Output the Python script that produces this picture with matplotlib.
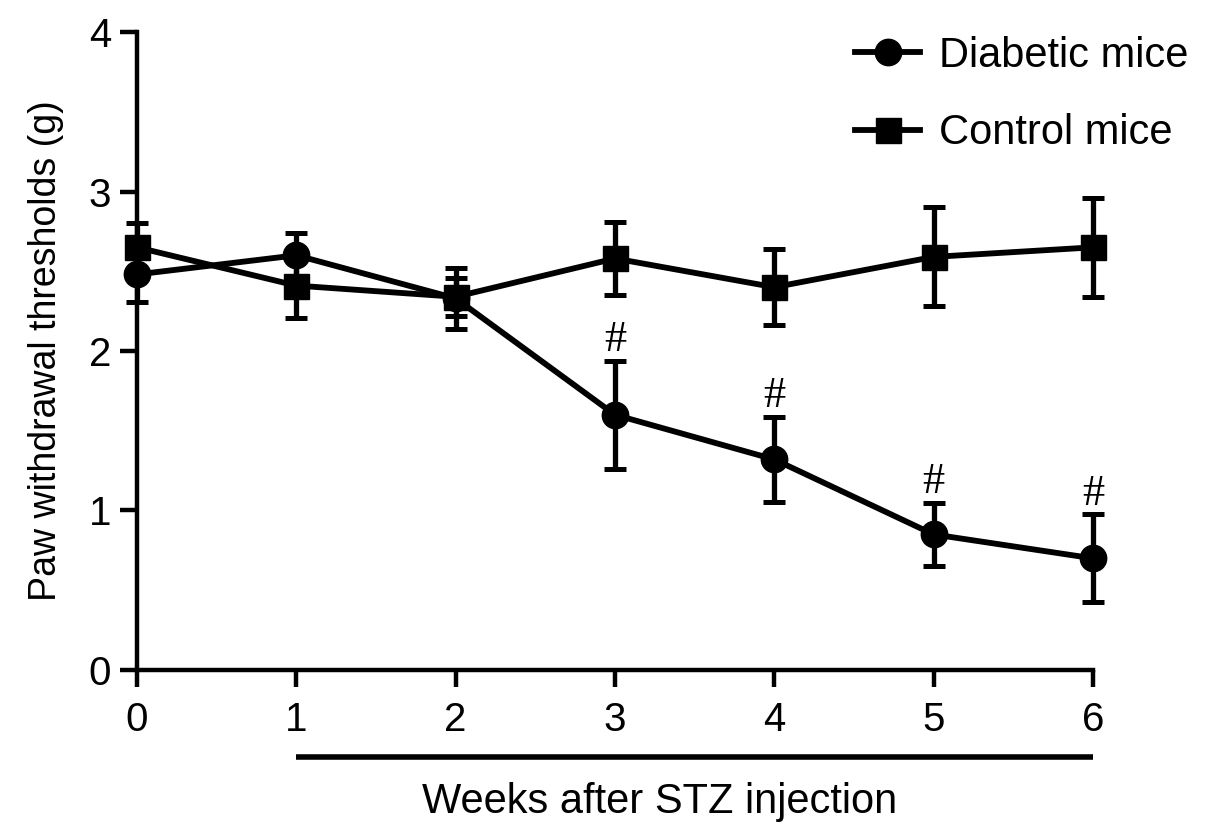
# Paw withdrawal thresholds, diabetic vs control mice
import numpy as np
import matplotlib.pyplot as plt
import matplotlib.transforms as mtransforms
from matplotlib.lines import Line2D

plt.rcParams['font.family'] = ['Liberation Sans', 'DejaVu Sans']

weeks = [0, 1, 2, 3, 4, 5, 6]
diabetic_mean = [2.48, 2.60, 2.33, 1.60, 1.32, 0.85, 0.70]
diabetic_err = [0.17, 0.14, 0.19, 0.34, 0.265, 0.20, 0.275]
control_mean = [2.65, 2.41, 2.34, 2.58, 2.40, 2.59, 2.65]
control_err = [0.15, 0.20, 0.12, 0.23, 0.24, 0.31, 0.31]
sig_weeks = [3, 4, 5, 6]

fig = plt.figure(figsize=(12.05, 8.38), dpi=100)
ax = fig.add_axes([0.1137, 0.2005, 0.7933, 0.7613])

style = dict(color='black', lw=4.2, elinewidth=3.8, capsize=8.2, capthick=3.6,
             clip_on=False, zorder=3)
ax.errorbar(weeks, diabetic_mean, yerr=diabetic_err, marker='o', ms=19, **style)
ax.errorbar(weeks, control_mean, yerr=control_err, marker='s', ms=18, **style)

# significance marks above the diabetic error bars
for w in sig_weeks:
    i = weeks.index(w)
    ax.annotate('#', (w, diabetic_mean[i] + diabetic_err[i]), xytext=(0, 7),
                textcoords='offset points', ha='center', va='baseline',
                fontsize=32, family='Liberation Serif')

ax.set_xlim(0, 6)
ax.set_ylim(0, 4)
ax.set_xticks(weeks)
ax.set_yticks([0, 1, 2, 3, 4])
ax.tick_params(labelsize=29, width=3.2, length=12.5)
ax.tick_params(axis='x', pad=10)
ax.tick_params(axis='y', pad=6)
for s in ['top', 'right']:
    ax.spines[s].set_visible(False)
for s in ['left', 'bottom']:
    ax.spines[s].set_linewidth(3.2)

ax.set_ylabel('Paw withdrawal thresholds (g)', fontsize=27, labelpad=18)

# bar under the weeks after injection
trans = mtransforms.blended_transform_factory(ax.transData, ax.transAxes)
ax.plot([1, 6], [-0.136, -0.136], color='black', lw=4, transform=trans,
        clip_on=False, solid_capstyle='butt')
ax.text(3.28, -0.207, 'Weeks after STZ injection', transform=trans,
        ha='center', va='center', fontsize=30)

handles = [Line2D([], [], color='black', lw=4.2, marker='o', ms=19),
           Line2D([], [], color='black', lw=4.2, marker='s', ms=18)]
ax.legend(handles, ['Diabetic mice', 'Control mice'], loc='upper right',
          bbox_to_anchor=(1.0, 0.977), bbox_transform=fig.transFigure,
          borderaxespad=0, frameon=False, fontsize=30, handlelength=1.56,
          labelspacing=0.9, handletextpad=0.45)

fig.savefig('out.png', dpi=100)
